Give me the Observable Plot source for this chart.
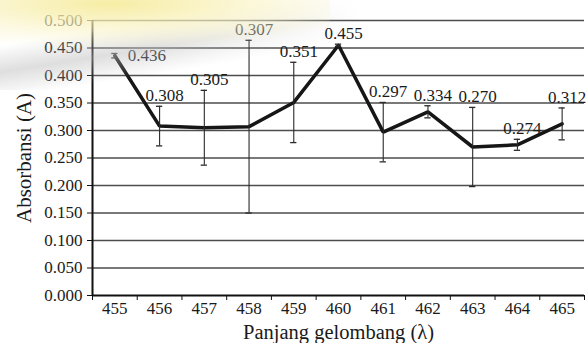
<!DOCTYPE html>
<html>
<head>
<meta charset="utf-8">
<script src="https://cdn.jsdelivr.net/npm/d3@7"></script>
<script src="https://cdn.jsdelivr.net/npm/@observablehq/plot@0.6"></script>
<style>
  html, body { margin: 0; padding: 0; background: #ffffff; }
  #wrap { position: relative; width: 586px; height: 343px; }
  #chart svg, #chart svg text { font-family: "Liberation Serif", "DejaVu Serif", serif !important; font-variant: normal !important; font-variant-numeric: normal !important; }
  #wm1 { position: absolute; left: 0; top: 0; width: 330px; height: 60px; pointer-events: none;
         background: radial-gradient(ellipse 260px 44px at 110px 4px, rgba(246,236,160,0.95), rgba(250,244,200,0.6) 60%, rgba(255,255,255,0) 100%); }
  #wm2 { position: absolute; left: 0; top: 0; width: 380px; height: 90px; pointer-events: none;
         background: linear-gradient(171deg, rgba(255,255,255,0) 30%, rgba(190,190,190,0.5) 48%, rgba(255,255,255,0) 66%);
         -webkit-mask-image: linear-gradient(to right, black 40%, transparent 95%);
         mask-image: linear-gradient(to right, black 40%, transparent 95%); }
</style>
</head>
<body>
<div id="wrap">
<div id="chart"></div>
<div id="wm2"></div>
<div id="wm1"></div>
</div>
<script>
const wavelengths = [455, 456, 457, 458, 459, 460, 461, 462, 463, 464, 465];
const absorbance = [0.436, 0.308, 0.305, 0.307, 0.351, 0.455, 0.297, 0.334, 0.270, 0.274, 0.312];
const errors = [0.004, 0.036, 0.068, 0.157, 0.073, 0.002, 0.054, 0.011, 0.072, 0.010, 0.029];
const yTicks = [0, 0.05, 0.1, 0.15, 0.2, 0.25, 0.3, 0.35, 0.4, 0.45, 0.5];
const yLabel = "Absorbansi (A)";
const xLabel = "Panjang gelombang (λ)";

const FONT = "Liberation Serif";
const data = wavelengths.map((w, i) => ({
  w, v: absorbance[i], lo: absorbance[i] - errors[i], hi: absorbance[i] + errors[i]
}));
const boundaries = [wavelengths[0] - 0.5, ...wavelengths.map(w => w + 0.5)];
const capHalf = 0.07;

const chart = Plot.plot({
  width: 586,
  height: 343,
  marginLeft: 92,
  marginRight: 2,
  marginTop: 20,
  marginBottom: 48,
  style: { fontFamily: FONT, fontSize: "17px", color: "#1a1a1a", background: "transparent" },
  x: { domain: [boundaries[0], boundaries[boundaries.length - 1]] },
  y: { domain: [0, 0.5] },
  marks: [
    Plot.ruleY(yTicks.slice(1), { stroke: "#4d4d4d", strokeWidth: 1.4 }),
    Plot.axisY({ ticks: yTicks, tickFormat: d3.format(".3f"), tickSize: 5, tickPadding: 5, label: null, fontSize: 17, fontFamily: FONT, fontVariant: "normal", stroke: "#111" }),
    Plot.axisX({ ticks: wavelengths, tickSize: 0, tickPadding: 6.5, label: null, fontSize: 17, fontFamily: FONT, fontVariant: "normal", tickFormat: d => String(d) }),
    Plot.axisX({ ticks: boundaries, tickSize: 5, tickFormat: () => "", label: null, stroke: "#111" }),
    Plot.ruleY([0], { stroke: "#111", strokeWidth: 2 }),
    Plot.ruleX([boundaries[0]], { stroke: "#111", strokeWidth: 2 }),
    Plot.line(data, { x: "w", y: "v", stroke: "#161616", strokeWidth: 3.5, strokeLinejoin: "miter" }),
    Plot.ruleX(data, { x: "w", y1: "lo", y2: "hi", stroke: "#2a2a2a", strokeWidth: 1.1 }),
    Plot.ruleY(data, { y: "hi", x1: d => d.w - capHalf, x2: d => d.w + capHalf, stroke: "#2a2a2a", strokeWidth: 1.3 }),
    Plot.ruleY(data, { y: "lo", x1: d => d.w - capHalf, x2: d => d.w + capHalf, stroke: "#2a2a2a", strokeWidth: 1.3 }),
    Plot.text(data.slice(0, 1), { x: "w", y: "v", text: d => d3.format(".3f")(d.v), textAnchor: "start", dx: 13, lineAnchor: "middle", fontSize: 17, fontFamily: FONT, fontVariant: "normal", fill: "#1a1a1a" }),
    Plot.text(data.slice(1), { x: "w", y: "hi", text: d => d3.format(".3f")(d.v), dx: 5, dy: -5, lineAnchor: "bottom", fontSize: 17, fontFamily: FONT, fontVariant: "normal", fill: "#1a1a1a" }),
    Plot.text([yLabel], { frameAnchor: "left", textAnchor: "middle", rotate: -90, dx: -68, lineAnchor: "middle", fontSize: 21, fontFamily: FONT, fill: "#1a1a1a" }),
    Plot.text([xLabel], { frameAnchor: "bottom", textAnchor: "middle", dy: 37, lineAnchor: "middle", fontSize: 20.5, fontFamily: FONT, fill: "#1a1a1a" })
  ]
});
document.getElementById("chart").appendChild(chart);
</script>
</body>
</html>
